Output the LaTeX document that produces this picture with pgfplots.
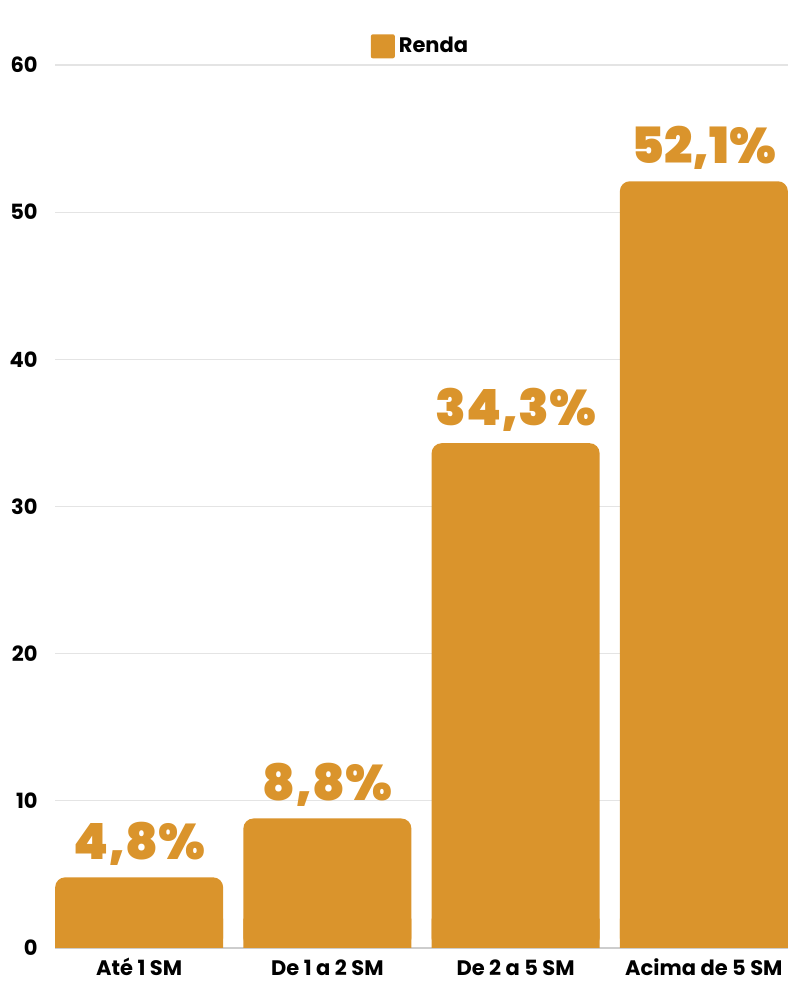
\documentclass[border=0pt]{standalone}
\usepackage{pgfplots}
\pgfplotsset{compat=1.18}
\usepackage{fontspec}
\setmainfont{Poppins}
\newfontfamily\heavy{Poppins Black}
\definecolor{barc}{RGB}{218,148,44}
\definecolor{gridc}{RGB}{228,228,228}
\definecolor{axisc}{RGB}{205,205,205}
\begin{document}
\begin{tikzpicture}
\path[use as bounding box] (-27.5pt,-26pt) rectangle (372.5pt,474pt);
\begin{axis}[
  scale only axis, width=366.5pt, height=441.5pt,
  xmin=-0.447, xmax=3.447, ymin=0, ymax=60,
  xtick={0,1,2,3},
  xticklabels={Até 1 SM, De 1 a 2 SM, De 2 a 5 SM, Acima de 5 SM},
  ytick={0,10,...,60},
  ymajorgrids, grid style={gridc, line width=0.6pt},
  axis x line*=bottom, axis y line*=left,
  y axis line style={draw=none},
  x axis line style={axisc, line width=0.8pt, -},
  major tick length=0pt,
  tick style={draw=none},
  /pgf/number format/assume math mode=true,
  yticklabel style={font=\bfseries\fontsize{10.5}{12}\selectfont, anchor=east, inner sep=0pt, xshift=-8.5pt},
  xticklabel style={font=\bfseries\fontsize{10.5}{12}\selectfont, anchor=base, inner sep=0pt, yshift=-13.5pt},
  legend style={at={(0.5,1)}, anchor=south, yshift=0.5pt, draw=none, fill=none,
    font=\bfseries\fontsize{10.5}{12}\selectfont, legend columns=-1},
  legend image code/.code={\fill[barc, rounded corners=1pt] (0pt,-6pt) rectangle (12pt,6pt);},
  clip=false,
]
\addplot[ybar, bar width=84pt, bar shift=0pt, fill=barc, draw=none, rounded corners=5pt,
  nodes near coords={\pgfmathprintnumber[fixed,precision=1,fixed zerofill,use comma]{\pgfplotspointmeta}\%},
  every node near coord/.append style={font=\heavy\fontsize{25}{30}\selectfont, text=barc, anchor=base, yshift=9pt, inner sep=0pt}]
  coordinates {(0,4.8) (1,8.8) (2,34.3) (3,52.1)};
\addlegendentry{Renda}
\addplot[ybar, bar width=84pt, bar shift=0pt, fill=barc, draw=none, forget plot]
  coordinates {(0,2) (1,2) (2,2) (3,2)};
\end{axis}
\end{tikzpicture}
\end{document}
